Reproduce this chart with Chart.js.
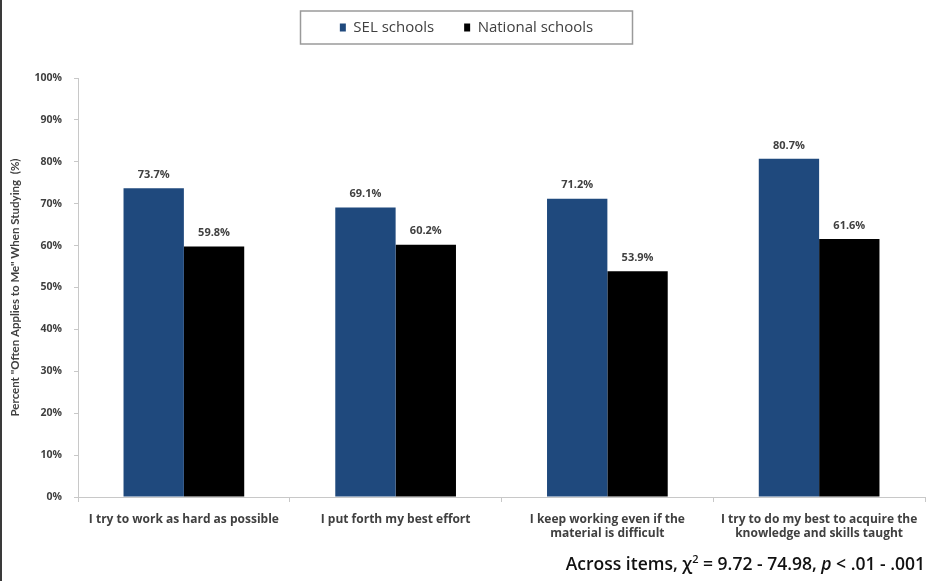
<!DOCTYPE html>
<html>
<head>
<meta charset="utf-8">
<script src="https://cdn.jsdelivr.net/npm/chart.js@4/dist/chart.umd.min.js"></script>
<style>
  html, body { margin: 0; padding: 0; background: #fff; }
  #wrap { position: relative; width: 931px; height: 581px; border-left: 2px solid #3a3a3a; box-sizing: border-box; }
  #note { position: absolute; right: 6px; bottom: 6px; font-family: "Open Sans", sans-serif; font-weight: 600; font-size: 17.5px; color: #111; }
  #note sup { font-size: 11px; }
</style>
</head>
<body>
<div id="wrap">
  <canvas id="myChart" width="929" height="581"></canvas>
  <div id="note">Across items, &chi;<sup>2</sup> = 9.72 - 74.98, <i>p</i> &lt; .01 - .001</div>
</div>
<script>
let categories = [
    "I try to work as hard as possible",
    "I put forth my best effort",
    ["I keep working even if the", "material is difficult"],
    ["I try to do my best to acquire the", "knowledge and skills taught"]
]
let selSchools = [73.7, 69.1, 71.2, 80.7]
let nationalSchools = [59.8, 60.2, 53.9, 61.6]
let yTicks = [0, 10, 20, 30, 40, 50, 60, 70, 80, 90, 100]

let grey = "#404040"

// value labels on top of the bars
let barLabels = {
    id: "barLabels",
    afterDatasetsDraw(chart){
        let ctx = chart.ctx
        ctx.save()
        ctx.font = "bold 11px 'Open Sans'"
        ctx.fillStyle = grey
        ctx.textAlign = "center"
        ctx.textBaseline = "bottom"
        chart.data.datasets.forEach((ds, i) => {
            chart.getDatasetMeta(i).data.forEach((bar, j) => {
                ctx.fillText(ds.data[j].toFixed(1) + "%", bar.x, bar.y - 8)
            })
        })
        ctx.restore()
    }
}

// frame round the legend + extra room under it
let legendFrame = {
    id: "legendFrame",
    beforeInit(chart){
        let fit = chart.legend.fit
        chart.legend.fit = function(){
            fit.bind(chart.legend)()
            this.height += 33
        }
    },
    afterDraw(chart){
        let boxes = chart.legend.legendHitBoxes
        if(!boxes || !boxes.length) return
        let left = Math.min(...boxes.map(b => b.left))
        let right = Math.max(...boxes.map(b => b.left + b.width))
        let top = Math.min(...boxes.map(b => b.top))
        let bottom = Math.max(...boxes.map(b => b.top + b.height))
        let mid = (left + right) / 2
        let ctx = chart.ctx
        ctx.save()
        ctx.strokeStyle = "#9a9a9a"
        ctx.lineWidth = 1.5
        ctx.strokeRect(mid - 166, top - 9, 332, bottom - top + 18)
        ctx.restore()
    }
}

let chart = new Chart("myChart", {
    type: "bar",
    data: {
        labels: categories,
        datasets: [{
            label: "SEL schools",
            backgroundColor: "#1F497D",
            data: selSchools
        }, {
            label: "National schools",
            backgroundColor: "#000000",
            data: nationalSchools
        }]
    },
    options: {
        responsive: false,
        animation: false,
        categoryPercentage: 0.57,
        barPercentage: 1.0,
        layout: { padding: { left: 6, right: 6, top: -10, bottom: 0 } },
        plugins: {
            legend: {
                display: true,
                position: "top",
                labels: {
                    boxWidth: 6,
                    boxHeight: 8,
                    padding: 30,
                    color: grey,
                    font: { family: "Open Sans", size: 15 }
                }
            },
            tooltip: { enabled: false },
            title: { display: false }
        },
        scales: {
            x: {
                grid: { display: true, drawOnChartArea: false, tickLength: 5, color: "#c8c8c8", offset: true },
                border: { color: "#c8c8c8" },
                ticks: {
                    color: grey,
                    maxRotation: 0,
                    autoSkip: false,
                    padding: 10,
                    font: { family: "Open Sans", size: 12, weight: "bold" }
                },
                afterFit: s => { s.height = 84 }
            },
            y: {
                min: 0,
                max: 100,
                afterBuildTicks: s => { s.ticks = yTicks.map(v => ({ value: v })) },
                grid: { display: true, drawOnChartArea: false, tickLength: 4, color: "#c8c8c8" },
                border: { color: "#c8c8c8" },
                ticks: {
                    color: grey,
                    padding: 12,
                    font: { family: "Open Sans", size: 10.5, weight: "bold" },
                    callback: v => v + "%"
                },
                title: {
                    display: true,
                    text: 'Percent "Often Applies to Me" When Studying  (%)',
                    color: grey,
                    padding: { top: 0, bottom: 6 },
                    font: { family: "Lato", size: 11.5, weight: "bold" }
                },
                afterFit: s => { s.width = 70 }
            }
        }
    },
    plugins: [barLabels, legendFrame]
})
</script>
</body>
</html>
